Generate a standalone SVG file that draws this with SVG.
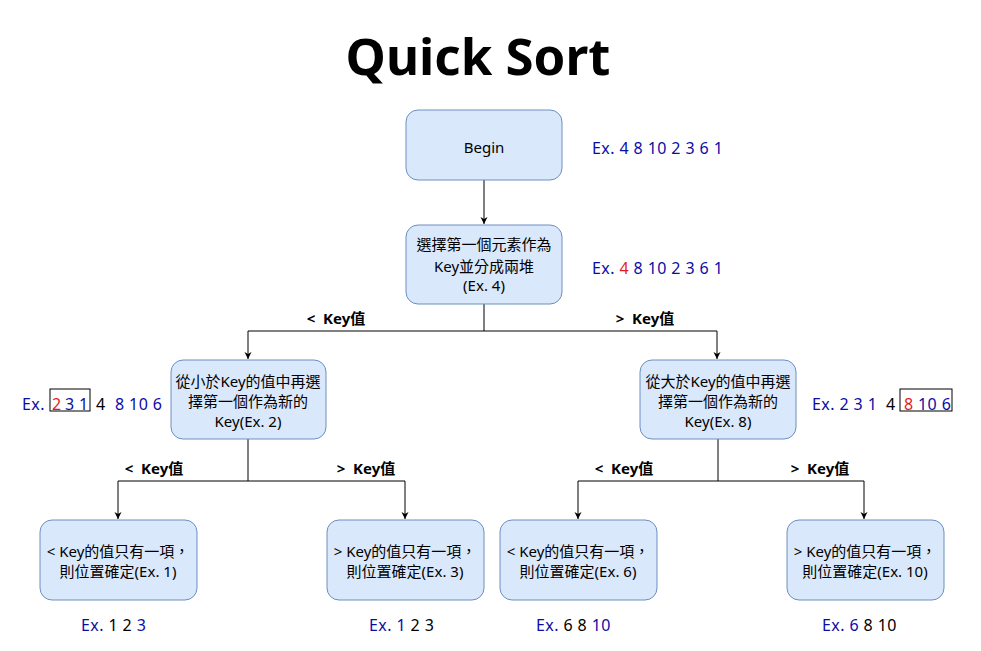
<svg xmlns="http://www.w3.org/2000/svg" width="981" height="651" viewBox="0 0 981 651">
<style>
.nd{fill:#dae8fc;stroke:#6c8ebf;stroke-width:1}
.t{font-family:"Noto Sans","Noto Sans CJK TC",sans-serif;font-size:15px;fill:#000;text-anchor:middle}
.lb{font-family:"Noto Sans","Noto Sans CJK TC",sans-serif;font-size:15px;font-weight:bold;fill:#000;text-anchor:middle}
.ex{font-family:"Noto Sans","Noto Sans CJK TC",sans-serif;font-size:16px;letter-spacing:0.4px;fill:#0c0ca8}
.r{fill:#e8191c}
.k{fill:#000}
.ln{fill:none;stroke:#000;stroke-width:1}
.hl{fill:none;stroke:#000;stroke-width:1}
</style>
<defs>
<marker id="ah" markerWidth="8" markerHeight="8" refX="7" refY="4" orient="auto" markerUnits="userSpaceOnUse">
<path d="M0,0.5 L7,4 L0,7.5 L2,4 Z" fill="#000"/>
</marker>
</defs>
<rect width="981" height="651" fill="#fff"/>
<text x="478" y="75" font-family="'Noto Sans',sans-serif" font-size="51" font-weight="bold" text-anchor="middle">Quick Sort</text>

<g id="connectors">
<path class="ln" d="M484,180 V224" marker-end="url(#ah)"/>
<path class="ln" d="M484,304 V331 H248 V359" marker-end="url(#ah)"/>
<path class="ln" d="M484,331 H717 V359" marker-end="url(#ah)"/>
<path class="ln" d="M248,439 V481 H118 V519" marker-end="url(#ah)"/>
<path class="ln" d="M248,481 H405 V519" marker-end="url(#ah)"/>
<path class="ln" d="M718,439 V481 H578 V519" marker-end="url(#ah)"/>
<path class="ln" d="M718,481 H864 V519" marker-end="url(#ah)"/>
<text class="lb" x="336" y="324" xml:space="preserve">&lt;  Key值</text>
<text class="lb" x="645" y="324" xml:space="preserve">&gt;  Key值</text>
<text class="lb" x="154" y="474" xml:space="preserve">&lt;  Key值</text>
<text class="lb" x="366" y="474" xml:space="preserve">&gt;  Key值</text>
<text class="lb" x="624" y="474" xml:space="preserve">&lt;  Key值</text>
<text class="lb" x="820" y="474" xml:space="preserve">&gt;  Key值</text>
</g>

<g id="begin">
<rect class="nd" x="406" y="110" width="156" height="70" rx="12"/>
<text class="t" x="484" y="153">Begin</text>
</g>
<g id="pick">
<rect class="nd" x="406" y="225" width="156" height="79" rx="12"/>
<text class="t" x="484" y="250">選擇第一個元素作為</text>
<text class="t" x="484" y="272">Key並分成兩堆</text>
<text class="t" x="484" y="291">(Ex. 4)</text>
</g>
<g id="left">
<rect class="nd" x="171" y="360" width="155" height="79" rx="12"/>
<text class="t" x="248" y="387">從小於Key的值中再選</text>
<text class="t" x="248" y="407">擇第一個作為新的</text>
<text class="t" x="248" y="427">Key(Ex. 2)</text>
</g>
<g id="right">
<rect class="nd" x="640" y="360" width="156" height="79" rx="12"/>
<text class="t" x="718" y="387">從大於Key的值中再選</text>
<text class="t" x="718" y="407">擇第一個作為新的</text>
<text class="t" x="718" y="427">Key(Ex. 8)</text>
</g>
<g id="ll">
<rect class="nd" x="40" y="520" width="157" height="80" rx="12"/>
<text class="t" x="118" y="557">&lt; Key的值只有一項，</text>
<text class="t" x="118" y="577">則位置確定(Ex. 1)</text>
</g>
<g id="lr">
<rect class="nd" x="327" y="520" width="157" height="80" rx="12"/>
<text class="t" x="405" y="557">&gt; Key的值只有一項，</text>
<text class="t" x="405" y="577">則位置確定(Ex. 3)</text>
</g>
<g id="rl">
<rect class="nd" x="500" y="520" width="157" height="80" rx="12"/>
<text class="t" x="578" y="557">&lt; Key的值只有一項，</text>
<text class="t" x="578" y="577">則位置確定(Ex. 6)</text>
</g>
<g id="rr">
<rect class="nd" x="787" y="520" width="157" height="80" rx="12"/>
<text class="t" x="865" y="557">&gt; Key的值只有一項，</text>
<text class="t" x="865" y="577">則位置確定(Ex. 10)</text>
</g>

<g id="examples">
<text class="ex" x="592" y="154">Ex. 4 8 10 2 3 6 1</text>
<text class="ex" x="592" y="274">Ex. <tspan class="r">4</tspan> 8 10 2 3 6 1</text>

<rect class="hl" x="50" y="389" width="40" height="22"/>
<text class="ex" y="410"><tspan x="22">Ex.</tspan><tspan x="52" class="r">2</tspan><tspan x="65">3 1</tspan><tspan x="96" class="k">4</tspan><tspan x="115">8 10 6</tspan></text>

<rect class="hl" x="900" y="389" width="52" height="22"/>
<text class="ex" y="410"><tspan x="812">Ex. 2 3 1</tspan><tspan x="886" class="k">4</tspan><tspan x="904" class="r">8</tspan><tspan x="918">10 6</tspan></text>

<text class="ex" x="81" y="631">Ex. <tspan class="k">1 2</tspan> 3</text>
<text class="ex" x="369" y="631">Ex. 1 <tspan class="k">2 3</tspan></text>
<text class="ex" x="536" y="631">Ex. <tspan class="k">6 8</tspan> 10</text>
<text class="ex" x="822" y="631">Ex. 6 <tspan class="k">8 10</tspan></text>
</g>
</svg>
